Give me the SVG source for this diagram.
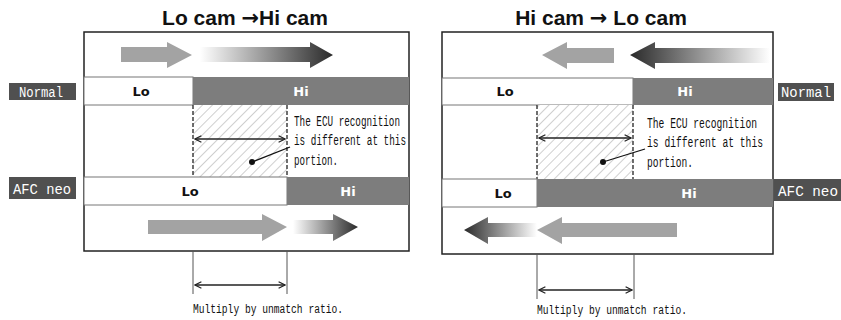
<svg xmlns="http://www.w3.org/2000/svg" width="841" height="320" viewBox="0 0 841 320">
<defs>
<style>
.title{font-family:"Liberation Sans",Arial,sans-serif;font-weight:bold;font-size:21px;fill:#111}
.arr{font-family:"DejaVu Sans",sans-serif;font-weight:bold}
.cell{font-family:"DejaVu Sans","Liberation Sans",sans-serif;font-weight:900;font-size:13px;text-anchor:middle}
.mono{font-family:"Liberation Mono","DejaVu Sans Mono",monospace;font-size:14px;fill:#111}
.lbl{font-family:"Liberation Mono","DejaVu Sans Mono",monospace;font-size:14px;fill:#fff}
.frame{fill:#fff;stroke:#222;stroke-width:1.5}
.lo{fill:#fff;stroke:#777;stroke-width:1}
.hi{fill:#7d7d7d}
.dash{stroke:#222;stroke-width:1.3;stroke-dasharray:4,2;fill:none}
.dim{stroke:#222;stroke-width:1.6;fill:none}
.ext{stroke:#555;stroke-width:1;fill:none}
.garrow{fill:#a3a3a3}
</style>
<pattern id="hatch" patternUnits="userSpaceOnUse" width="7" height="7" patternTransform="rotate(45)">
<rect width="7" height="7" fill="#fff"/>
<line x1="0" y1="0" x2="0" y2="7" stroke="#888" stroke-width="0.8"/>
</pattern>
<marker id="ah" viewBox="0 0 10 10" refX="9" refY="5" markerWidth="8" markerHeight="8" markerUnits="userSpaceOnUse" orient="auto-start-reverse">
<polyline points="1,1 9,5 1,9" fill="none" stroke="#222" stroke-width="1.5"/>
</marker>
<linearGradient id="gR" x1="0" x2="1" y1="0" y2="0">
<stop offset="0" stop-color="#fff"/>
<stop offset="1" stop-color="#2a2a2a"/>
</linearGradient>
<linearGradient id="gL" x1="1" x2="0" y1="0" y2="0">
<stop offset="0" stop-color="#fff"/>
<stop offset="1" stop-color="#2a2a2a"/>
</linearGradient>
</defs>

<!-- LEFT PANEL -->
<g id="left-panel">
<text class="title" x="245" y="25" text-anchor="middle">Lo cam <tspan class="arr">→</tspan>Hi cam</text>
<rect class="frame" x="84" y="32" width="325" height="219"/>
<g id="left-top-arrows">
<polygon class="garrow" points="121,47 167,47 167,42 192,55 167,68 167,62 121,62"/>
<polygon fill="url(#gR)" points="200,47 310,47 310,42 333,55 310,68 310,62 200,62"/>
</g>
<g id="left-normal-row">
<rect class="lo" x="84" y="77" width="109" height="28"/>
<rect class="hi" x="193" y="77" width="216" height="28"/>
<text class="cell" x="141" y="96" fill="#111">Lo</text>
<text class="cell" x="301" y="96" fill="#fff">Hi</text>
</g>
<g id="left-hatch">
<rect x="193" y="105" width="94" height="72" fill="url(#hatch)"/>
<line class="dash" x1="193" y1="105" x2="193" y2="177"/>
<line class="dash" x1="287" y1="105" x2="287" y2="177"/>
<line class="dim" x1="195" y1="139" x2="285" y2="139" marker-start="url(#ah)" marker-end="url(#ah)"/>
<circle cx="252" cy="162" r="3" fill="#111"/>
<line x1="252" y1="162" x2="290" y2="147" stroke="#111" stroke-width="1.3"/>
<text class="mono" x="294" y="126" textLength="106" lengthAdjust="spacingAndGlyphs">The ECU recognition</text>
<text class="mono" x="294" y="145" textLength="112" lengthAdjust="spacingAndGlyphs">is different at this</text>
<text class="mono" x="294" y="165" textLength="44" lengthAdjust="spacingAndGlyphs">portion.</text>
</g>
<g id="left-afc-row">
<rect class="lo" x="84" y="177" width="203" height="28"/>
<rect class="hi" x="287" y="177" width="122" height="28"/>
<text class="cell" x="190" y="196" fill="#111">Lo</text>
<text class="cell" x="348" y="196" fill="#fff">Hi</text>
</g>
<g id="left-bottom-arrows">
<polygon class="garrow" points="148,220 262,220 262,214 287,227 262,241 262,234 148,234"/>
<polygon fill="url(#gR)" points="293,220 333,220 333,214 358,227 333,241 333,234 293,234"/>
</g>
<g id="left-dim">
<line class="ext" x1="193" y1="251" x2="193" y2="294"/>
<line class="ext" x1="287" y1="251" x2="287" y2="294"/>
<line class="dim" x1="195" y1="285" x2="285" y2="285" marker-start="url(#ah)" marker-end="url(#ah)"/>
<text class="mono" x="193" y="313" textLength="150" lengthAdjust="spacingAndGlyphs" style="font-size:12.5px">Multiply by unmatch ratio.</text>
</g>
</g>

<g id="left-label-normal">
<rect x="9" y="83" width="67" height="17" fill="#505050"/>
<text class="lbl" x="19" y="97" textLength="44" lengthAdjust="spacingAndGlyphs">Normal</text>
</g>
<g id="left-label-afc">
<rect x="9" y="177" width="67" height="22" fill="#505050"/>
<text class="lbl" x="13" y="194" textLength="58" lengthAdjust="spacingAndGlyphs">AFC neo</text>
</g>

<!-- RIGHT PANEL -->
<g id="right-panel">
<text class="title" x="601" y="25" text-anchor="middle">Hi cam <tspan class="arr">→</tspan> Lo cam</text>
<rect class="frame" x="442" y="32" width="331" height="222"/>
<g id="right-top-arrows">
<polygon class="garrow" points="614,48 567,48 567,42 542,55 567,69 567,63 614,63"/>
<polygon fill="url(#gL)" points="770,48 655,48 655,42 630,55 655,69 655,63 770,63"/>
</g>
<g id="right-normal-row">
<rect class="lo" x="442" y="78" width="191" height="27"/>
<rect class="hi" x="633" y="78" width="140" height="27"/>
<text class="cell" x="505" y="96" fill="#111">Lo</text>
<text class="cell" x="685" y="96" fill="#fff">Hi</text>
</g>
<g id="right-hatch">
<rect x="537" y="105" width="96" height="74" fill="url(#hatch)"/>
<line class="dash" x1="537" y1="105" x2="537" y2="179"/>
<line class="dash" x1="633" y1="105" x2="633" y2="179"/>
<line class="dim" x1="539" y1="138" x2="631" y2="138" marker-start="url(#ah)" marker-end="url(#ah)"/>
<circle cx="603" cy="162" r="3" fill="#111"/>
<line x1="603" y1="162" x2="645" y2="149" stroke="#111" stroke-width="1.3"/>
<text class="mono" x="647" y="128" textLength="110" lengthAdjust="spacingAndGlyphs">The ECU recognition</text>
<text class="mono" x="647" y="147" textLength="116" lengthAdjust="spacingAndGlyphs">is different at this</text>
<text class="mono" x="647" y="167" textLength="46" lengthAdjust="spacingAndGlyphs">portion.</text>
</g>
<g id="right-afc-row">
<rect class="lo" x="442" y="179" width="95" height="28"/>
<rect class="hi" x="537" y="179" width="236" height="28"/>
<text class="cell" x="503" y="198" fill="#111">Lo</text>
<text class="cell" x="689" y="198" fill="#fff">Hi</text>
</g>
<g id="right-bottom-arrows">
<polygon class="garrow" points="677,223 562,223 562,217 537,230 562,244 562,237 677,237"/>
<polygon fill="url(#gL)" points="537,223 488,223 488,217 464,230 488,244 488,237 537,237"/>
</g>
<g id="right-dim">
<line class="ext" x1="537" y1="254" x2="537" y2="299"/>
<line class="ext" x1="634" y1="254" x2="634" y2="299"/>
<line class="dim" x1="539" y1="290" x2="632" y2="290" marker-start="url(#ah)" marker-end="url(#ah)"/>
<text class="mono" x="537" y="314" textLength="150" lengthAdjust="spacingAndGlyphs" style="font-size:12.5px">Multiply by unmatch ratio.</text>
</g>
</g>

<g id="right-label-normal">
<rect x="778" y="83" width="56" height="18" fill="#505050"/>
<text class="lbl" x="781" y="97" textLength="50" lengthAdjust="spacingAndGlyphs">Normal</text>
</g>
<g id="right-label-afc">
<rect x="774" y="179" width="67" height="22" fill="#505050"/>
<text class="lbl" x="778" y="196" textLength="60" lengthAdjust="spacingAndGlyphs">AFC neo</text>
</g>
</svg>
